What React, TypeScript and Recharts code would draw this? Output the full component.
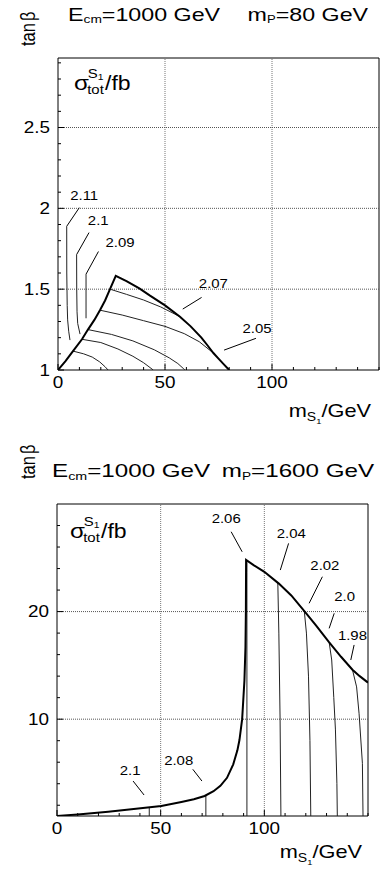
import React from 'react';
import { ScatterChart, Scatter, XAxis, YAxis, ReferenceLine, ReferenceArea } from 'recharts';

type Pt = [number, number];

const FONT = '"Liberation Sans", Arial, Helvetica, sans-serif';

// ---------- shared ----------
const xTicks = [0, 10, 20, 30, 40, 50, 60, 70, 80, 90, 100, 110, 120, 130, 140, 150];
const xLabels = [0, 50, 100];
const gridX = [50, 100];

// ---------- top panel (mP = 80 GeV) ----------
const topYDomain: [number, number] = [1, 2.93];
const topYTicks = [1, 1.1, 1.2, 1.3, 1.4, 1.5, 1.6, 1.7, 1.8, 1.9, 2, 2.1, 2.2, 2.3, 2.4, 2.5, 2.6, 2.7, 2.8, 2.9];
const topYLabels = [1, 1.5, 2, 2.5];
const topGridY = [1.5, 2, 2.5];

const topBoundary: Pt[] = [
  [0, 1], [3.5, 1.055], [7, 1.117], [11.2, 1.19], [14, 1.25], [17, 1.31], [19.6, 1.37], [22, 1.43],
  [24.3, 1.5], [27, 1.582], [32, 1.55], [38, 1.505], [43, 1.46], [50, 1.4], [57, 1.33], [62, 1.27],
  [67, 1.2], [70, 1.15], [72.6, 1.105], [75, 1.07], [77.5, 1.035], [80, 1],
];
const top207: Pt[] = [[24.3, 1.5], [32, 1.468], [40, 1.433], [48, 1.39], [57, 1.33]];
const top206: Pt[] = [[19.6, 1.37], [30, 1.34], [40, 1.305], [50, 1.27], [59, 1.225], [66, 1.175], [72.6, 1.105]];
const top205: Pt[] = [[14, 1.25], [25, 1.22], [35, 1.18], [45, 1.125], [52, 1.075], [56, 1.04], [58.5, 1.01], [59.3, 1]];
const top204: Pt[] = [[11.2, 1.19], [20, 1.17], [28, 1.13], [35, 1.085], [40, 1.045], [43, 1.015], [44.5, 1]];
const top203: Pt[] = [[7, 1.117], [12, 1.1], [16, 1.08], [19.5, 1.05], [22, 1.02], [23.4, 1]];
const top211: Pt[] = [[4.07, 1.889], [4.1, 1.6], [4.3, 1.4], [4.5, 1.31], [5.0, 1.24], [5.6, 1.185]];
const top210: Pt[] = [[8.7, 1.714], [8.75, 1.5], [8.9, 1.36], [9.2, 1.288], [10.3, 1.222]];
const top209: Pt[] = [[13.1, 1.593], [13.1, 1.32]];
const topThin = [top207, top206, top205, top204, top203, top211, top210, top209];

const topLeaders: Pt[][] = [
  [[9.95, 2.004], [4.07, 1.889]],
  [[14.5, 1.85], [8.7, 1.714]],
  [[18.9, 1.733], [13.1, 1.593]],
  [[67.1, 1.449], [58.3, 1.377]],
  [[92.5, 1.196], [77.6, 1.123]],
];
const topLabelText = ['2.11', '2.1', '2.09', '2.07', '2.05'];
const topLabelX = [12.24, 18.8, 29, 72.6, 93];
const topLabelY = [2.078, 1.928, 1.792, 1.535, 1.257];

// ---------- bottom panel (mP = 1600 GeV) ----------
const botYDomain: [number, number] = [1, 30];
const botYTicks = [2, 4, 6, 8, 10, 12, 14, 16, 18, 20, 22, 24, 26, 28];
const botYLabels = [10, 20];
const botGridY = [10, 20];

const botBoundary: Pt[] = [
  [0, 1], [10, 1.15], [24.7, 1.4], [37, 1.65], [50.3, 1.93], [60, 2.3], [66, 2.55], [71.2, 2.86],
  [75.5, 3.3], [78.8, 3.8], [82, 4.55], [85, 5.8], [87, 7.1], [88, 8.06], [89.3, 10], [90.4, 13.6],
  [90.9, 16.7], [91.1, 20], [91.2, 24.8], [95, 24.3], [100, 23.7], [107, 22.6], [113, 21.5],
  [119.5, 20.0], [125, 18.7], [131, 17.2], [137, 15.8], [142.5, 14.6], [146, 14], [150, 13.4],
];
const bot210: Pt[] = [[44.5, 1.8], [44.5, 1]];
const bot208: Pt[] = [[71.8, 2.9], [71.8, 1]];
const bot206: Pt[] = [[91.6, 24.6], [91.6, 1]];
const bot204: Pt[] = [[106.5, 22.7], [107, 18], [107.6, 10], [108, 1]];
const bot202: Pt[] = [[119.3, 20.0], [120.3, 18], [121.3, 14], [122, 8], [122.4, 1]];
const bot200: Pt[] = [[131.3, 17.1], [132.5, 15.5], [133.5, 12], [134.3, 9], [135, 4], [135.2, 1]];
const bot198: Pt[] = [[142.5, 14.6], [144.5, 13], [145.7, 10.5], [147.3, 5.9], [147.6, 1]];
const botThin = [bot210, bot208, bot206, bot204, bot202, bot200, bot198];

const botLeaders: Pt[][] = [
  [[84.0, 27.42], [89.3, 25.56]],
  [[111.7, 26.34], [107.7, 23.86]],
  [[128.0, 23.24], [121.6, 20.77]],
  [[133.7, 19.84], [131.25, 18.44]],
  [[143.3, 16.9], [141.7, 15.5]],
  [[36.7, 4.25], [42.0, 2.95]],
  [[65.5, 5.34], [69.9, 4.25]],
];
const botLabelText = ['2.06', '2.04', '2.02', '2.0', '1.98', '2.1', '2.08'];
const botLabelX = [81.6, 113.0, 129.2, 138.7, 142.5, 35.3, 58.7];
const botLabelY = [28.67, 27.27, 24.33, 21.38, 17.82, 5.27, 6.2];

// ---------- helpers ----------
const toObj = (pts: Pt[]) => pts.map(([x, y]) => ({ x, y }));
const isIn = (arr: number[], v: number) => arr.some((a) => Math.abs(a - v) < 1e-6);
const Empty = () => <g />;

const makeXTick = (offset: number) => (props: any) => {
  const { x, y, payload } = props;
  const v = payload.value;
  const major = isIn(xLabels, v);
  return (
    <g>
      <line x1={x} x2={x} y1={y} y2={y - (major ? 6 : 3)} stroke="#000" strokeWidth={1} />
      {major && (
        <g transform={`translate(${x} ${y + offset}) scale(1.18 1)`}>
          <text x={0} y={0} textAnchor="middle" fontSize={16} fontFamily={FONT} fill="#000">{String(v)}</text>
        </g>
      )}
    </g>
  );
};

const makeYTick = (labels: number[]) => (props: any) => {
  const { x, y, payload } = props;
  const v = payload.value;
  const major = isIn(labels, v);
  return (
    <g>
      <line x1={x} x2={x + (major ? 6 : 3)} y1={y} y2={y} stroke="#000" strokeWidth={1} />
      {major && (
        <g transform={`translate(${x - 8} ${y + 5.8}) scale(1.18 1)`}>
          <text x={0} y={0} textAnchor="end" fontSize={16} fontFamily={FONT} fill="#000">{String(v)}</text>
        </g>
      )}
    </g>
  );
};

const LabelShape = (p: any) => (
  <g transform={`translate(${p.cx} ${p.cy}) scale(1.15 1)`}>
    <text x={0} y={4.6} textAnchor="middle" fontSize={13} fontFamily={FONT} fill="#000">{p.payload.label}</text>
  </g>
);

function Panel(props: {
  yDomain: [number, number]; yTicks: number[]; yLabels: number[]; gridY: number[];
  boundary: Pt[]; thin: Pt[][]; leaders: Pt[][]; labText: string[]; labX: number[]; labY: number[];
  margin: { top: number; right: number; bottom: number; left: number }; xOffset: number;
}) {
  const { yDomain, yTicks, yLabels, gridY, boundary, thin, leaders, labText, labX, labY, margin, xOffset } = props;
  const labels = labText.map((label, i) => ({ x: labX[i], y: labY[i], label }));
  return (
    <ScatterChart width={383} height={436} margin={margin}>
      <XAxis type="number" dataKey="x" domain={[0, 150]} ticks={xTicks} interval={0} allowDataOverflow
        tickSize={0} tickMargin={0} tickLine={false} axisLine={false} height={30} tick={makeXTick(xOffset)} />
      <YAxis type="number" dataKey="y" domain={yDomain} ticks={yTicks} interval={0} allowDataOverflow
        tickSize={0} tickMargin={0} tickLine={false} axisLine={false} width={40} tick={makeYTick(yLabels)} />
      {gridX.map((v) => (
        <ReferenceLine key={'gx' + v} x={v} stroke="#777" strokeWidth={1} strokeDasharray="1 1" />
      ))}
      {gridY.map((v) => (
        <ReferenceLine key={'gy' + v} y={v} stroke="#555" strokeWidth={1} strokeDasharray="1 1" />
      ))}
      <ReferenceArea x1={0} x2={150} y1={yDomain[0]} y2={yDomain[1]} fill="none" fillOpacity={0} stroke="#000" strokeWidth={1} />
      {thin.map((c, i) => (
        <Scatter key={'c' + i} data={toObj(c)} fill="#222" line={{ stroke: '#222', strokeWidth: 1 }} shape={Empty} isAnimationActive={false} />
      ))}
      {leaders.map((c, i) => (
        <Scatter key={'l' + i} data={toObj(c)} fill="#000" line={{ stroke: '#000', strokeWidth: 1 }} shape={Empty} isAnimationActive={false} />
      ))}
      <Scatter data={toObj(boundary)} fill="#000" line={{ stroke: '#000', strokeWidth: 2 }} shape={Empty} isAnimationActive={false} />
      <Scatter data={labels} fill="#000" shape={LabelShape} isAnimationActive={false} />
    </ScatterChart>
  );
}

function Title({ x, y, mP, gap, sx }: { x: number; y: number; mP: string; gap: number; sx: number }) {
  return (
    <g transform={`translate(${x} ${y}) scale(${sx} 1)`}>
      <text x={0} y={0} fontSize={18.6} fontFamily={FONT} fill="#000">
        E<tspan fontSize={11} dy={2.5}>cm</tspan><tspan dy={-2.5}>=1000 GeV</tspan>
        <tspan dx={gap}>m</tspan><tspan fontSize={10.5} dy={2.5}>P</tspan><tspan dy={-2.5}>={mP} GeV</tspan>
      </text>
    </g>
  );
}

function Sigma({ x, y }: { x: number; y: number }) {
  return (
    <g transform={`translate(${x} ${y}) scale(1.15 1)`} fontFamily={FONT} fill="#000">
      <text x={0} y={0} fontSize={21}>σ</text>
      <text x={11.5} y={4} fontSize={13}>tot</text>
      <text x={12} y={-12} fontSize={13}>S<tspan fontSize={9} dy={2}>1</tspan></text>
      <text x={27} y={0} fontSize={20}>/fb</text>
    </g>
  );
}

function TanB({ x, y }: { x: number; y: number }) {
  return (
    <g transform={`translate(${x} ${y}) rotate(-90) scale(1 1.2)`}>
      <text x={0} y={0} fontSize={16.5} fontFamily={FONT} fill="#000">tan<tspan dx={2}>β</tspan></text>
    </g>
  );
}

function XTitle({ x, y }: { x: number; y: number }) {
  return (
    <g transform={`translate(${x} ${y}) scale(1.17 1)`}>
      <text x={0} y={0} textAnchor="end" fontSize={18.6} fontFamily={FONT} fill="#000">
        m<tspan fontSize={12} dy={4}>S</tspan><tspan fontSize={8} dy={3}>1</tspan><tspan fontSize={18.6} dy={-7}>/GeV</tspan>
      </text>
    </g>
  );
}

export default function App() {
  return (
    <div style={{ position: 'absolute', left: 0, top: 0, width: 383, height: 872, background: '#fff', overflow: 'hidden' }}>
      <div style={{ position: 'absolute', left: 0, top: 0 }}>
        <Panel yDomain={topYDomain} yTicks={topYTicks} yLabels={topYLabels} gridY={topGridY}
          boundary={topBoundary} thin={topThin} leaders={topLeaders}
          labText={topLabelText} labX={topLabelX} labY={topLabelY}
          margin={{ top: 58, right: 4, bottom: 36, left: 18 }} xOffset={18.4} />
      </div>
      <div style={{ position: 'absolute', left: 0, top: 436 }}>
        <Panel yDomain={botYDomain} yTicks={botYTicks} yLabels={botYLabels} gridY={botGridY}
          boundary={botBoundary} thin={botThin} leaders={botLeaders}
          labText={botLabelText} labX={botLabelX} labY={botLabelY}
          margin={{ top: 68, right: 15, bottom: 26, left: 17 }} xOffset={17.9} />
      </div>
      <svg width={383} height={872} style={{ position: 'absolute', left: 0, top: 0, pointerEvents: 'none' }}>
        <Title x={68} y={20.7} mP="80" gap={22} sx={1.25} />
        <Title x={52} y={477} mP="1600" gap={9} sx={1.3} />
        <TanB x={35} y={46} />
        <TanB x={35} y={479} />
        <Sigma x={74} y={90} />
        <Sigma x={70} y={538} />
        <XTitle x={371} y={417} />
        <XTitle x={362} y={858} />
      </svg>
    </div>
  );
}
